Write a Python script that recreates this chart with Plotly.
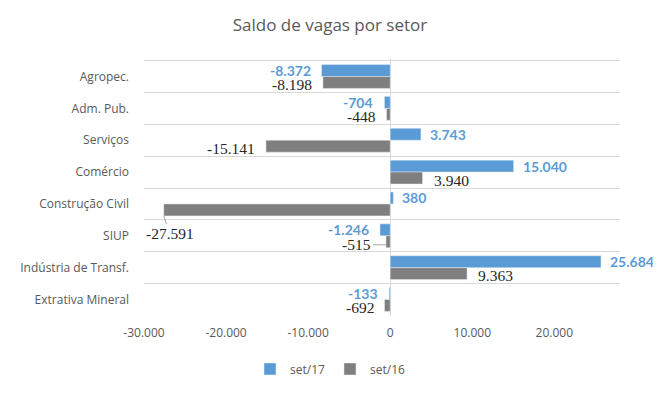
import plotly.graph_objects as go

categories = ["Agropec.", "Adm. Pub.", "Serviços", "Comércio", "Construção Civil",
              "SIUP", "Indústria de Transf.", "Extrativa Mineral"]
set17 = [-8372, -704, 3743, 15040, 380, -1246, 25684, -133]
set16 = [-8198, -448, -15141, 3940, -27591, -515, 9363, -692]
x_ticks = [-30000, -20000, -10000, 0, 10000, 20000]

BLUE = "#5B9BD5"
GRAY = "#7F7F7F"
TXT = "#595959"
W, H = 653, 378  # page adds an 8px body margin


def fmt(v):
    return f"{v:,}".replace(",", ".")


fig = go.Figure()
fig.add_trace(go.Bar(y=categories, x=set17, name="set/17", orientation="h",
                     marker=dict(color=BLUE), hoverinfo="x+y"))
fig.add_trace(go.Bar(y=categories, x=set16, name="set/16", orientation="h",
                     marker=dict(color=GRAY), hoverinfo="x+y"))

annotations = []
for cat, v in zip(categories, set17):
    annotations.append(dict(
        x=v, y=cat, xref="x", yref="y", text=fmt(v), showarrow=False,
        xanchor="right" if v < 0 else "left", xshift=-9 if v < 0 else 7, yshift=6,
        font=dict(family="Lato, Open Sans, sans-serif", size=14, color=BLUE, weight="bold")))
for cat, v in zip(categories, set16):
    base = dict(x=v, y=cat, xref="x", yref="y", text=fmt(v),
                font=dict(family="Liberation Serif, serif", size=15.5, color="#262626"))
    if cat == "Construção Civil":
        base.update(showarrow=True, arrowhead=0, arrowwidth=1, arrowcolor="#A6A6A6",
                    ax=6, ay=18, yshift=-12)
    elif cat == "SIUP":
        base.update(showarrow=True, arrowhead=0, arrowwidth=1, arrowcolor="#A6A6A6",
                    ax=-29, ay=0, yshift=-9)
    else:
        base.update(showarrow=False, xanchor="right" if v < 0 else "left",
                    xshift=-9 if v < 0 else 9, yshift=-8)
    annotations.append(base)

fig.update_layout(
    width=W, height=H,
    margin=dict(l=136, r=41, t=50, b=70, autoexpand=False),
    paper_bgcolor="white", plot_bgcolor="white",
    separators=",.",
    barmode="group", bargap=0.25, bargroupgap=0,
    title=dict(text="Saldo de vagas por setor", x=322 / W, xanchor="center",
               xref="container", y=1 - 17 / H, yref="container", yanchor="middle",
               font=dict(family="Open Sans, sans-serif", size=17, color=TXT)),
    font=dict(family="Open Sans, sans-serif", size=12, color=TXT),
    showlegend=True,
    legend=dict(orientation="h", xref="container", x=322 / W, xanchor="center",
                yref="container", y=1 - 361 / H, yanchor="middle",
                font=dict(size=12, color=TXT), itemwidth=30, tracegroupgap=0),
    annotations=annotations,
)
fig.update_xaxes(range=[-30000, 28000], tickvals=x_ticks, ticktext=[fmt(t) for t in x_ticks],
                 showgrid=False, zeroline=True, zerolinecolor="#D9D9D9", zerolinewidth=1,
                 ticks="", tickfont=dict(size=12, color=TXT), ticklabelstandoff=8,
                 automargin=False, fixedrange=True)
fig.update_yaxes(autorange="reversed", categoryorder="array", categoryarray=categories,
                 tickson="boundaries", showgrid=True, gridcolor="#D9D9D9", gridwidth=1,
                 ticks="", ticklen=0, tickfont=dict(size=12, color=TXT),
                 ticklabelstandoff=14, showline=False, automargin=False, fixedrange=True)

fig.write_html("out.html")
